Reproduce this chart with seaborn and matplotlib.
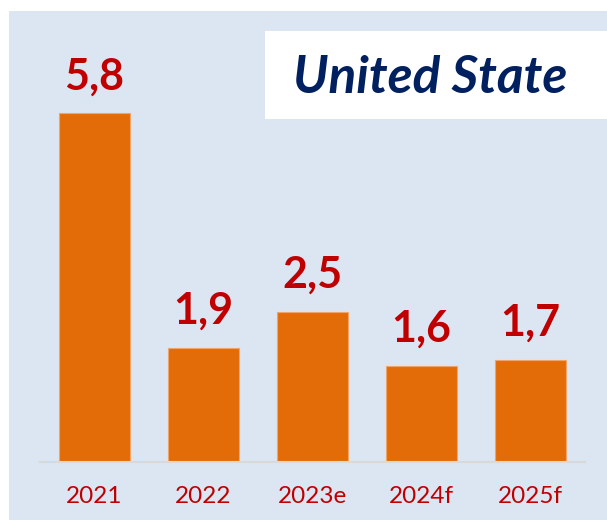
import matplotlib
matplotlib.use("Agg")
import matplotlib.pyplot as plt
import seaborn as sns
from matplotlib.patches import Rectangle

# data
years = ["2021", "2022", "2023e", "2024f", "2025f"]
growth = [5.8, 1.9, 2.5, 1.6, 1.7]
labels = ["5,8", "1,9", "2,5", "1,6", "1,7"]
title = "United State"

bar_color = "#E36C09"
label_color = "#C00000"
title_color = "#002060"
panel_color = "#DCE6F2"

sns.set_style("white")
plt.rcParams["font.family"] = ["Lato", "DejaVu Sans"]

W, H = 607, 520
fig = plt.figure(figsize=(W / 100, H / 100), dpi=100)
fig.patch.set_facecolor("white")

# blue panel behind everything
fig.patches.append(Rectangle((9 / W, 0), 1 - 9 / W, 1 - 11 / H,
                             transform=fig.transFigure, facecolor=panel_color,
                             edgecolor="none", zorder=-2))
# white title box
fig.patches.append(Rectangle((265 / W, 1 - 119 / H), (607 - 265) / W, 88 / H,
                             transform=fig.transFigure, facecolor="white",
                             edgecolor="none", zorder=-1))

ax = fig.add_axes([40 / W, 58 / H, 545 / W, 442 / H])
ax.set_facecolor("none")
ax.set_zorder(1)

sns.barplot(x=years, y=growth, color=bar_color, width=0.66, saturation=1,
            edgecolor="#EFA46A", linewidth=0.8, ax=ax)

ax.set_xlim(-0.5, 4.5)
ax.set_ylim(0, 442 / 60.2)

for i, (v, lab) in enumerate(zip(growth, labels)):
    ax.annotate(lab, (i, v), xytext=(0, 17), textcoords="offset points",
                ha="center", va="baseline", fontsize=31, fontweight="bold",
                color=label_color)

for s in ["top", "right", "left"]:
    ax.spines[s].set_visible(False)
ax.spines["bottom"].set_color("#D9D9D9")
ax.spines["bottom"].set_linewidth(1.5)
ax.set_yticks([])
ax.set_xlabel("")
ax.set_ylabel("")
ax.tick_params(axis="x", length=0, pad=17, labelsize=17.5, labelcolor=label_color)

fig.text(430 / W, 1 - 93 / H, title, ha="center", va="baseline",
         fontsize=37, fontweight="bold", fontstyle="italic", color=title_color,
         zorder=3)

fig.savefig("out.png", dpi=100, facecolor=fig.get_facecolor())
